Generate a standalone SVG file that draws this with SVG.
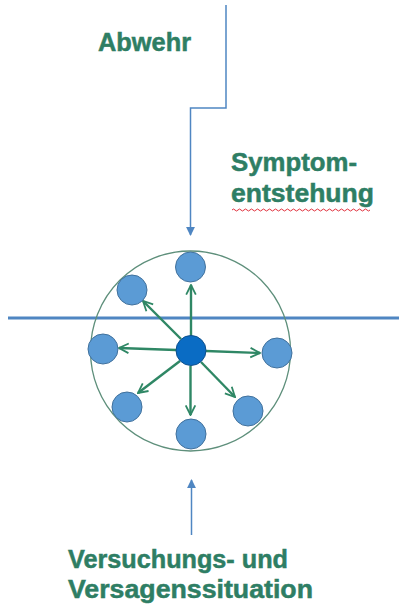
<svg xmlns="http://www.w3.org/2000/svg" width="399" height="614" viewBox="0 0 399 614">
  <style>
    .label { font-family: "Liberation Sans", Arial, sans-serif; font-weight: bold; font-size: 26px; fill: #2e7e64; stroke: #2e7e64; stroke-width: 0.5; }
    .flow { fill: none; stroke: #4f86c2; stroke-width: 1.5; }
    .ray { fill: none; stroke: #2f8765; stroke-width: 2.4; }
    .dot { fill: #5b9bd5; stroke: #41719c; stroke-width: 1; }
    .core { fill: #0a6cc4; stroke: #0d4f8c; stroke-width: 1; }
  </style>
  <defs>
    <marker id="tri" viewBox="0 0 10 10" refX="9" refY="5" markerWidth="6" markerHeight="6" orient="auto" markerUnits="strokeWidth">
      <path d="M0,0 L10,5 L0,10 Z" fill="#4f86c2"/>
    </marker>
    <marker id="chev" viewBox="0 0 10 10" refX="9" refY="5" markerWidth="5" markerHeight="5" orient="auto" markerUnits="strokeWidth">
      <path d="M1,1 L9,5 L1,9" fill="none" stroke="#2f8765" stroke-width="1.5"/>
    </marker>
  </defs>

  <rect width="399" height="614" fill="#ffffff"/>

  <!-- labels -->
  <g id="abwehr"><text class="label" x="98" y="51" textLength="93" lengthAdjust="spacingAndGlyphs">Abwehr</text></g>
  <g id="symptom">
    <text class="label" x="231" y="171" textLength="126" lengthAdjust="spacingAndGlyphs">Symptom-</text>
    <text class="label" x="231" y="202" textLength="143" lengthAdjust="spacingAndGlyphs">entstehung</text>
    <path d="M232,210 q1.5,-2 3,0 t3,0 t3,0 t3,0 t3,0 t3,0 t3,0 t3,0 t3,0 t3,0 t3,0 t3,0 t3,0 t3,0 t3,0 t3,0 t3,0 t3,0 t3,0 t3,0 t3,0 t3,0 t3,0 t3,0 t3,0 t3,0 t3,0 t3,0 t3,0 t3,0 t3,0 t3,0 t3,0 t3,0 t3,0 t3,0 t3,0 t3,0 t3,0 t3,0 t3,0 t3,0 t3,0 t3,0 t3,0 t3,0" fill="none" stroke="#e0303c" stroke-width="1"/>
  </g>
  <g id="versuchung">
    <text class="label" x="68" y="568" textLength="220" lengthAdjust="spacingAndGlyphs">Versuchungs- und</text>
    <text class="label" x="68" y="598" textLength="245" lengthAdjust="spacingAndGlyphs">Versagenssituation</text>
  </g>

  <!-- horizontal divider -->
  <g id="divider"><line x1="8" y1="318" x2="399" y2="318" stroke="#4f86c2" stroke-width="3"/></g>

  <!-- enclosing circle -->
  <g id="field"><circle cx="190.5" cy="351" r="100" fill="none" stroke="#5e8f7b" stroke-width="1.3"/></g>

  <!-- connectors -->
  <g id="connectors">
    <path class="flow" d="M226,5 V108 H190.5 V235" marker-end="url(#tri)"/>
    <path class="flow" d="M191.5,535 V480" marker-end="url(#tri)"/>
    <line class="ray" x1="191" y1="336" x2="191" y2="285" marker-end="url(#chev)"/>
    <line class="ray" x1="181" y1="339" x2="143" y2="301" marker-end="url(#chev)"/>
    <line class="ray" x1="176" y1="350" x2="119" y2="348" marker-end="url(#chev)"/>
    <line class="ray" x1="206" y1="351" x2="260" y2="353" marker-end="url(#chev)"/>
    <line class="ray" x1="180" y1="361" x2="138" y2="393" marker-end="url(#chev)"/>
    <line class="ray" x1="190.5" y1="366" x2="190.5" y2="415" marker-end="url(#chev)"/>
    <line class="ray" x1="201" y1="362" x2="235" y2="397" marker-end="url(#chev)"/>
  </g>

  <!-- nodes -->
  <g id="center"><circle class="core" cx="191" cy="350.5" r="15"/></g>
  <g id="n-top"><circle class="dot" cx="190.5" cy="267" r="15"/></g>
  <g id="n-upleft"><circle class="dot" cx="132" cy="290" r="15"/></g>
  <g id="n-left"><circle class="dot" cx="103" cy="349" r="15"/></g>
  <g id="n-right"><circle class="dot" cx="277" cy="353" r="15"/></g>
  <g id="n-downleft"><circle class="dot" cx="127" cy="407" r="15"/></g>
  <g id="n-bottom"><circle class="dot" cx="191" cy="434" r="15"/></g>
  <g id="n-downright"><circle class="dot" cx="248" cy="411" r="15"/></g>
</svg>
